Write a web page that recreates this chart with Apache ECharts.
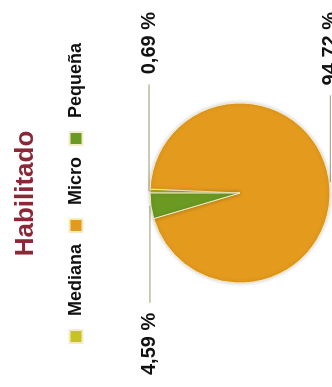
<!DOCTYPE html>
<html>
<head>
<meta charset="utf-8">
<script src="https://cdn.jsdelivr.net/npm/echarts@6/dist/echarts.min.js"></script>
<style>
  html, body {
    margin: 0;
    padding: 0;
    width: 332px;
    height: 387px;
    overflow: hidden;
    background: #fff;
  }
  /* el gráfico original está girado 90° en la imagen */
  #chart {
    position: absolute;
    left: 0;
    top: 0;
    width: 387px;
    height: 345px;
    transform-origin: 0 0;
    transform: translate(0, 387px) rotate(-90deg);
  }
</style>
</head>
<body>
<div id="chart"></div>
<script>
var categories = ["Mediana", "Micro", "Pequeña"];
var values = [0.69, 94.72, 4.59];
var colors = ["#C7C12A", "#E39A1D", "#6A9A22"];

var myChart = echarts.init(document.getElementById("chart"));

var pieData = categories.map(function (name, i) {
  return { name: name, value: values[i] };
});

var option = {
  animation: false,
  color: colors,
  title: {
    text: "Habilitado",
    left: "center",
    top: 8,
    textStyle: {
      color: "#8B2837",
      fontSize: 26,
      fontWeight: "bold",
      fontFamily: "Liberation Sans",
    },
  },
  legend: {
    data: categories,
    left: "center",
    top: 62,
    itemWidth: 13,
    itemHeight: 13,
    itemGap: 11,
    icon: "rect",
    textStyle: {
      color: "#111",
      fontSize: 18,
      fontWeight: "bold",
      fontFamily: "Liberation Sans",
      padding: [0, 0, 0, 9],
    },
  },
  series: [
    {
      type: "pie",
      center: [194, 240],
      radius: 90,
      startAngle: 90,
      clockwise: true,
      data: pieData,
      itemStyle: {
        borderColor: "#f4ecc4",
        borderWidth: 1,
        shadowBlur: 4,
        shadowColor: "rgba(0,0,0,0.2)",
      },
      label: {
        show: true,
        position: "outside",
        alignTo: "edge",
        edgeDistance: 12,
        distanceToLabelLine: 10,
        color: "#111",
        fontSize: 20,
        fontWeight: "bold",
        fontFamily: "Liberation Sans",
        formatter: function (p) {
          return p.value.toFixed(2).replace(".", ",") + " %";
        },
      },
      labelLine: {
        show: true,
        length: 1,
        length2: 20,
        lineStyle: {
          color: "#9a9872",
          width: 1,
        },
      },
    },
  ],
};
myChart.setOption(option);
</script>
</body>
</html>
